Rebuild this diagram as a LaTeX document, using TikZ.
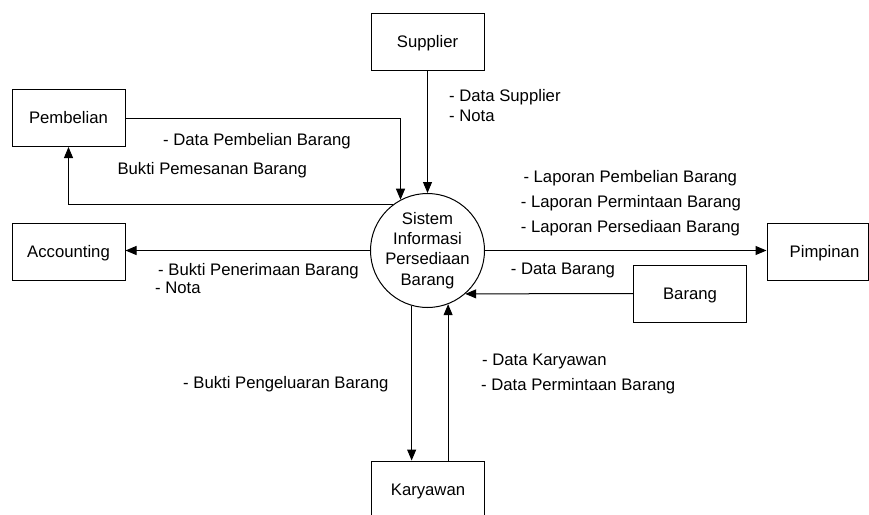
\documentclass[tikz,border=0pt]{standalone}
\usepackage{fontspec}
\setmainfont{Liberation Sans}
\usetikzlibrary{arrows.meta}
\begin{document}
\begin{tikzpicture}[x=1pt,y=-1pt,
  every node/.style={font=\fontsize{16.7}{20.2}\selectfont},
  box/.style={draw, line width=1pt, rectangle, minimum width=113pt, minimum height=57pt, inner sep=0pt, text height=11.9pt, text depth=0pt},
  proc/.style={draw, line width=1pt, circle, minimum size=114pt, inner sep=0pt, align=center},
  lbl/.style={anchor=base west, inner sep=0pt},
  flow/.style={line width=1pt, -{Triangle[length=11pt,width=9pt]}}]
\useasboundingbox (0,0) rectangle (869,514);
\fill[white] (0,0) rectangle (869,514);
\clip (0,0) rectangle (869,514);

% entities and process
\node[proc] (C) at (427.5,250.5) {Sistem\\Informasi\\Persediaan\\Barang};
\node[box] (S) at (427.5,41.5) {Supplier};
\node[box] (P) at (68.5,118) {Pembelian};
\node[box] (A) at (68.5,251.5) {Accounting};
\node[box, minimum width=101pt] (Pm) at (817.5,251.5) {\hspace*{14pt}Pimpinan};
\node[box] (B) at (690,293.5) {Barang};
\node[box] (K) at (428,489.5) {Karyawan};

% labels
\node[lbl] (l1) at (449,101) {- Data Supplier};
\node[lbl] (l2) at (449,121) {- Nota};
\node[lbl] (l3) at (163,145.2) {- Data Pembelian Barang};
\node[lbl] (l4) at (117.3,174.3) {Bukti Pemesanan Barang};
\node[lbl] (l5) at (523.3,182) {- Laporan Pembelian Barang};
\node[lbl] (l6) at (520.7,207.7) {- Laporan Permintaan Barang};
\node[lbl] (l7) at (520.7,232) {- Laporan Persediaan Barang};
\node[lbl] (l8) at (510.7,274.3) {- Data Barang};
\node[lbl] (l9) at (158,275.3) {- Bukti Penerimaan Barang};
\node[lbl] (l10) at (155,293.3) {- Nota};
\node[lbl] (l11) at (183,388.7) {- Bukti Pengeluaran Barang};
\node[lbl] (l12) at (482,365) {- Data Karyawan};
\node[lbl] (l13) at (481,390.3) {- Data Permintaan Barang};

% flows
\draw[flow] (S.south) -- (C.north);
\draw[flow] (P.east) -| (C.118);
\draw[flow] (C.127) -| (P.south);
\draw[flow] (C.west) -- (C.west -| A.east);
\draw[flow] (C.east) -- (C.east -| Pm.west);
\draw[flow] (B.west) -- (C.-49);
\draw[flow] (C.-106) -- (C.-106 |- K.north);
\draw[flow] (C.-69 |- K.north) -- (C.-69);
\end{tikzpicture}
\end{document}
